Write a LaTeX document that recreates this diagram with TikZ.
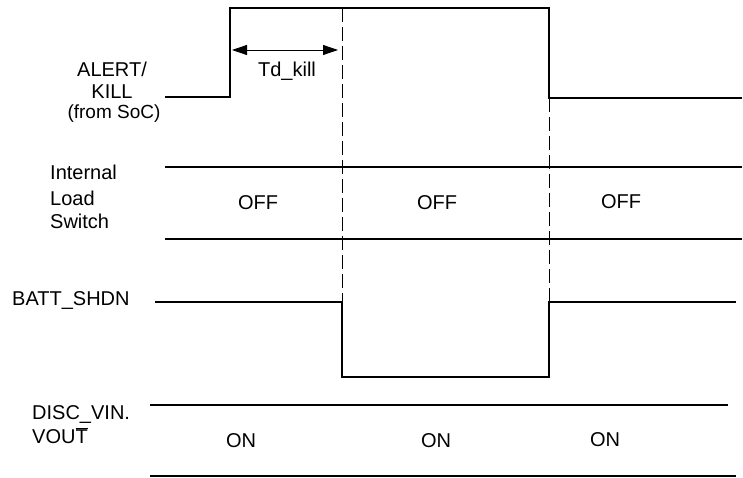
\documentclass[tikz,border=0pt]{standalone}
\usepackage{fontspec}
\setmainfont{Liberation Sans}
\usetikzlibrary{arrows.meta}

\begin{document}
\begin{tikzpicture}[x=1pt,y=-1pt]
\tikzstyle{every node}=[font=\fontsize{20}{24}\selectfont,inner sep=0pt]
\tikzstyle{signal}=[line width=2.8pt,line join=miter]
\tikzstyle{marker}=[line width=0.8pt,dash pattern=on 14pt off 5pt]
\tikzstyle{lbl}=[anchor=base west]
\useasboundingbox (0,0) rectangle (743,478);
% signal names
\node (alertA) at (112,69) {ALERT/};
\node (alertB) at (112,92) {KILL};
\node (alertC) at (114,114) {\fontsize{19}{22}\selectfont(from SoC)};
\node[lbl] (loadA) at (50,180) {Internal};
\node[lbl] (loadB) at (50,205) {Load};
\node[lbl] (loadC) at (50,228) {Switch};
\node[lbl] (batt) at (12,305) {BATT\_SHDN};
\node[lbl] (discA) at (32,419) {DISC\_VIN.};
\node[lbl] (discB) at (32,443) {VOU$\overline{\mbox{T}}$};
% waveforms
\draw[signal] (165,97) -- (230,97) -- (230,8) -- (549,8) -- (549,98) -- (742,98);
\draw[signal] (165,167) -- (742,167);
\draw[signal] (165,239) -- (742,239);
\draw[signal] (155,302) -- (342,302) -- (342,377) -- (549,377) -- (549,302) -- (736,302);
\draw[signal] (150,405) -- (728,405);
\draw[signal] (150,476) -- (736,476);
% timing markers
\draw[marker] (342,8) -- (342,302);
\draw[marker] (549,98) -- (549,302);
\coordinate (tdL) at (232,50);
\coordinate (tdR) at (338,50);
\draw[line width=0.8pt,{Triangle[length=15pt,width=10pt]}-{Triangle[length=15pt,width=10pt]}] (tdL) -- (tdR);
\node (td) at (287,71) {Td\_kill};
% states
\node (off1) at (258,203) {OFF};
\node (off2) at (437,203) {OFF};
\node (off3) at (621,202) {OFF};
\node (on1) at (241,441) {ON};
\node (on2) at (436,441) {ON};
\node (on3) at (605,440) {ON};
\end{tikzpicture}
\end{document}
